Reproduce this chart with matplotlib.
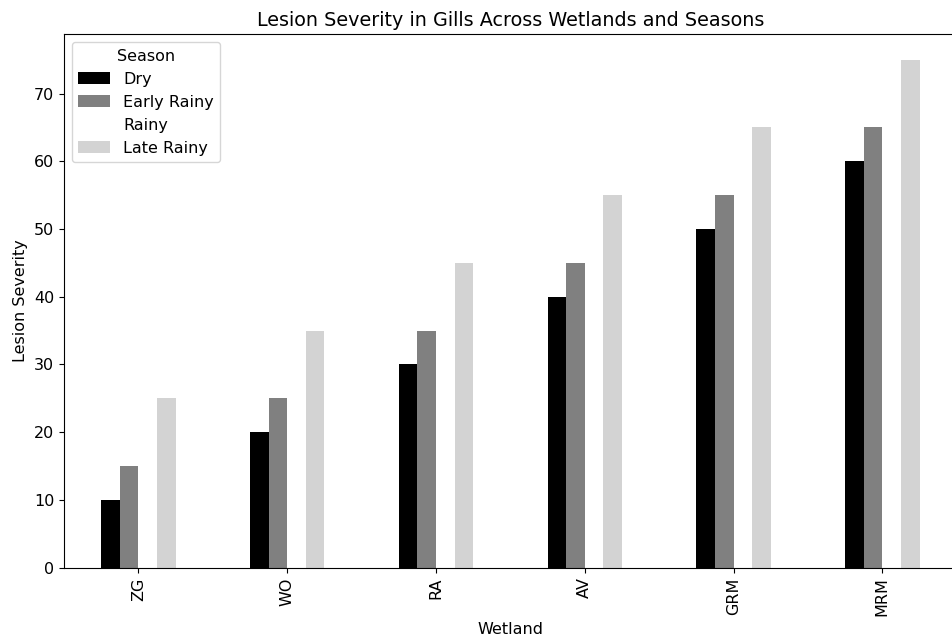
import matplotlib
matplotlib.use("Agg")
import matplotlib.pyplot as plt
import numpy as np

wetlands = ["ZG", "WO", "RA", "AV", "GRM", "MRM"]
seasons = ["Dry", "Early Rainy", "Rainy", "Late Rainy"]
dry = [10, 20, 30, 40, 50, 60]
early_rainy = [15, 25, 35, 45, 55, 65]
rainy = [20, 30, 40, 50, 60, 70]
late_rainy = [25, 35, 45, 55, 65, 75]
colors = ["black", "gray", "white", "lightgray"]

series = [dry, early_rainy, rainy, late_rainy]

plt.rcParams["font.size"] = 11.5

fig = plt.figure(figsize=(9.53, 6.41), dpi=100)
ax = fig.add_axes([0.0671, 0.1144, 0.9368, 0.8321])

x = np.arange(len(wetlands))
n = len(series)
width = 0.5 / n
for i, (vals, name, c) in enumerate(zip(series, seasons, colors)):
    offset = (i - (n - 1) / 2) * width
    ax.bar(x + offset, vals, width, color=c, label=name)

ax.set_xlim(-0.5, len(wetlands) - 0.5)
ax.set_ylim(0, max(late_rainy) * 1.05)
ax.set_xticks(x)
ax.set_xticklabels(wetlands, rotation=90)
ax.set_xlabel("Wetland")
ax.set_ylabel("Lesion Severity")
ax.set_title("Lesion Severity in Gills Across Wetlands and Seasons")
ax.legend(title="Season", loc="upper left")

fig.savefig("out.png", dpi=100)
